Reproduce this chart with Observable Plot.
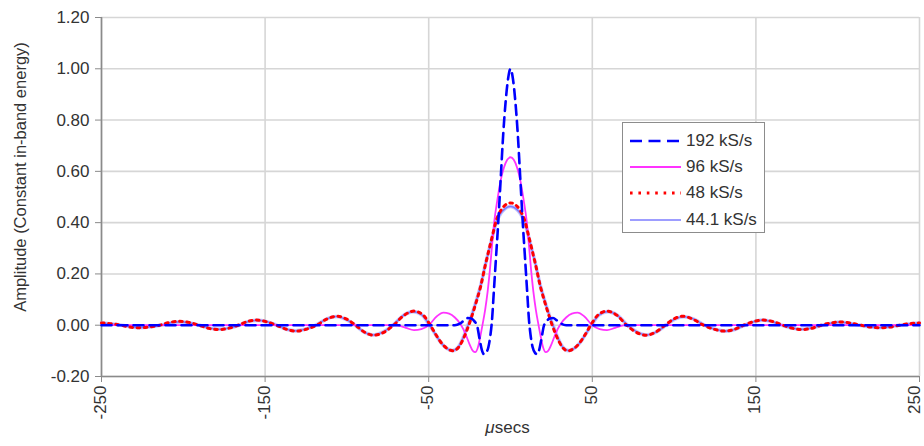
<!DOCTYPE html>
<html>
<head>
<meta charset="utf-8">
<script src="https://cdn.jsdelivr.net/npm/d3@7"></script>
<script src="https://cdn.jsdelivr.net/npm/@observablehq/plot@0.6"></script>
<style>
  html, body { margin: 0; padding: 0; background: #fff; }
  body { font-family: "Liberation Sans", Arial, sans-serif; }
  #wrap { position: relative; width: 924px; height: 446px; overflow: hidden; }
  #legend { position: absolute; left: 622px; top: 122px; width: 143px; height: 111px;
            border: 1px solid #8c8c8c; background: #fff; box-sizing: border-box; }
  .row { position: absolute; left: 6px; height: 20px; display: flex; align-items: center; }
  .row span { font-size: 17px; color: #333; margin-left: 5px; white-space: nowrap; }
</style>
</head>
<body>
<div id="wrap"><div id="legend"></div></div>
<script>
// ---- data ----
const seriesNames = ["192 kS/s", "96 kS/s", "48 kS/s", "44.1 kS/s"];

const t192 = [-250,-34,-31,-28.5,-26,-24,-22,-20.3,-19,-17.5,-16.2,-15,-13.5,-12.3,-11.3,-10.2,-9,-7.5,-6,-4.5,-3,-1.5,0,1.5,3,4.5,6,7.5,9,10.2,11.3,12.3,13.5,15,16.2,17.5,19,20.3,22,24,26,28.5,31,34,250];
const v192 = [0,0,0.006,0.018,0.028,0.026,0.015,-0.005,-0.05,-0.097,-0.113,-0.108,-0.085,-0.04,0.02,0.13,0.25,0.40,0.57,0.74,0.87,0.96,1.0,0.96,0.87,0.74,0.57,0.40,0.25,0.13,0.02,-0.04,-0.085,-0.108,-0.113,-0.097,-0.05,-0.005,0.015,0.026,0.028,0.018,0.006,0,0];

const t96 = [-250,-74,-69,-64,-59,-54.5,-50,-45,-41,-37.5,-34,-31,-29,-27,-25,-23,-21.5,-20,-18.5,-17,-15.5,-14,-12.6,-11.3,-10,-8,-6,-4,-2,0,2,4,6,8,10,11.3,12.6,14,15.5,17,18.5,20,21.5,23,25,27,29,31,34,37.5,41,45,50,54.5,59,64,69,74,250];
const v96 = [0,0,-0.001,-0.01,-0.019,-0.015,0,0.035,0.049,0.045,0.03,0.008,-0.013,-0.042,-0.075,-0.1,-0.105,-0.088,-0.045,0.005,0.06,0.13,0.215,0.31,0.40,0.49,0.565,0.615,0.645,0.655,0.645,0.615,0.565,0.49,0.40,0.31,0.215,0.13,0.06,0.005,-0.045,-0.088,-0.105,-0.1,-0.075,-0.042,-0.013,0.008,0.03,0.045,0.049,0.035,0,-0.015,-0.019,-0.01,-0.001,0,0];

const t48 = [-250,-244,-238,-233,-227.5,-221,-214.5,-208.5,-202.5,-196.5,-190.5,-184.5,-178.5,-172.5,-166.5,-161,-155.5,-149.5,-143,-137,-131,-125,-118.5,-112,-106,-100.5,-94.7,-89,-83.5,-77.5,-71.5,-65,-59,-53.5,-49,-45.5,-42,-38.5,-35,-31.5,-28.5,-25.5,-24,-22.4,-20.5,-18.3,-15.3,-13.3,-11.2,-8.6,-6,-4,-2,0,2,4,6,8.6,11.2,13.3,15.3,18.3,20.5,22.4,24,25.5,28.5,31.5,35,38.5,42,45.5,49,53.5,59,65,71,77,82.5,88.5,94.5,100,105,111,118,124.5,131,137,142.5,148.5,154.5,160.5,166.5,172.5,178,184,190,196,201.5,207.5,214,220,225.5,232,238,244,250];
const v48 = [0.009,0.006,0,-0.007,-0.010,-0.007,0,0.011,0.015,0.011,0,-0.012,-0.017,-0.012,0,0.014,0.020,0.014,0,-0.016,-0.023,-0.016,0,0.025,0.035,0.025,0,-0.028,-0.039,-0.028,0,0.039,0.055,0.040,0,-0.038,-0.071,-0.092,-0.100,-0.084,-0.048,0,0.028,0.060,0.100,0.150,0.237,0.290,0.345,0.410,0.447,0.464,0.474,0.477,0.474,0.464,0.447,0.410,0.345,0.290,0.237,0.150,0.100,0.060,0.028,0,-0.048,-0.084,-0.100,-0.092,-0.071,-0.038,0,0.040,0.055,0.039,0,-0.028,-0.039,-0.028,0,0.025,0.035,0.025,0,-0.016,-0.023,-0.016,0,0.014,0.020,0.014,0,-0.012,-0.017,-0.012,0,0.009,0.013,0.009,0,-0.007,-0.010,-0.007,0,0.006,0.009];

const t441 = [-250,-243.5,-237.5,-232,-226.5,-220.5,-214,-208,-202,-196,-190,-184,-178,-172,-166,-160.5,-155,-149,-143,-137,-131.5,-125.5,-119,-112.5,-106.5,-101,-95,-89.5,-84,-78,-72,-65.5,-59.5,-54,-49.5,-46,-42.5,-39,-35.5,-32,-29,-26,-24,-22.4,-20.5,-18.3,-15.3,-13.3,-11.2,-8.6,-6,-4,-2,0,2,4,6,8.6,11.2,13.3,15.3,18.3,20.5,22.4,24,26,29,32,35.5,39,42.5,46,49.5,54,59.5,65.5,71.5,77.5,83,89,95,100.5,106,112,118.5,125,131.5,137.5,143,149,154,160,166,172,178,184,190.5,196.5,201,207,213.5,219.5,225,231,237.5,243.5,250];
const v441 = [0.008,0.005,0,-0.007,-0.010,-0.007,0,0.009,0.013,0.009,0,-0.011,-0.016,-0.011,0,0.014,0.019,0.014,0,-0.016,-0.022,-0.016,0,0.024,0.034,0.024,0,-0.027,-0.038,-0.027,0,0.038,0.053,0.039,0,-0.034,-0.068,-0.090,-0.099,-0.086,-0.050,0,0.034,0.065,0.104,0.153,0.238,0.290,0.342,0.402,0.436,0.451,0.460,0.463,0.460,0.451,0.436,0.402,0.342,0.290,0.238,0.153,0.104,0.065,0.034,0,-0.050,-0.086,-0.099,-0.090,-0.068,-0.034,0,0.039,0.053,0.038,0,-0.027,-0.038,-0.027,0,0.024,0.033,0.024,0,-0.016,-0.023,-0.016,0,0.014,0.020,0.014,0,-0.011,-0.016,-0.011,0,0.008,0.012,0.008,0,-0.007,-0.010,-0.007,0,0.005,0.008];

const xTicks = [-250, -150, -50, 50, 150, 250];
const yTicks = [-0.2, 0, 0.2, 0.4, 0.6, 0.8, 1.0, 1.2];
const yTitle = "Amplitude (Constant in-band energy)";
const xTitle = "μsecs";

// ---- build tables ----
const toRows = (ts, vs) => ts.map((t, i) => ({t, v: vs[i]}));
const d192 = toRows(t192, v192);
const d96 = toRows(t96, v96);
const d48 = toRows(t48, v48);
const d441 = toRows(t441, v441);

const styles = [
  {stroke: "#0000ff", strokeWidth: 2.6, strokeDasharray: "10,6"},
  {stroke: "#ff33ff", strokeWidth: 1.8},
  {stroke: "#ff0000", strokeWidth: 3, strokeDasharray: "2.6,4.6"},
  {stroke: "#7d7dff", strokeWidth: 1.6}
];

const gridColor = "#d6d6d6";
const axisColor = "#8a8a8a";
const textColor = "#333";
const xLabelOpts = {tickSize: 0, tickPadding: 9, tickRotate: -90, fill: textColor, tickFormat: d => String(d), label: null};

const chart = Plot.plot({
  width: 924,
  height: 446,
  marginLeft: 101,
  marginRight: 5,
  marginTop: 17,
  marginBottom: 70,
  style: {fontFamily: "'Liberation Sans', Arial, sans-serif", fontSize: "17px", color: textColor, background: "#fff"},
  x: {domain: [xTicks[0], xTicks[xTicks.length - 1]]},
  y: {domain: [yTicks[0], yTicks[yTicks.length - 1]]},
  marks: [
    Plot.gridX(xTicks, {stroke: gridColor, strokeOpacity: 1, strokeWidth: 1.6}),
    Plot.gridY(yTicks, {stroke: gridColor, strokeOpacity: 1, strokeWidth: 1.6}),
    Plot.ruleY([yTicks[0]], {stroke: axisColor, strokeWidth: 1.6}),
    Plot.ruleX([xTicks[0]], {stroke: axisColor, strokeWidth: 1.6}),
    // x tick marks
    Plot.axisX(xTicks, {tickSize: 6, stroke: axisColor, tickFormat: () => "", label: null}),
    // x tick labels (rotated); the last one nudged left so it stays inside the picture
    Plot.axisX(xTicks.slice(0, -1), {...xLabelOpts, dx: -1}),
    Plot.axisX(xTicks.slice(-1), {...xLabelOpts, dx: -5}),
    Plot.axisY(yTicks, {tickSize: 6, tickPadding: 6, stroke: axisColor, fill: textColor,
                        tickFormat: d => d.toFixed(2), label: null}),
    // 44.1 kS/s: soft halo + core
    Plot.line(d441, {x: "t", y: "v", curve: "monotone-x", stroke: "#b9b9ff", strokeWidth: 3.6, strokeOpacity: 0.8}),
    Plot.line(d441, {x: "t", y: "v", curve: "monotone-x", ...styles[3]}),
    Plot.line(d96, {x: "t", y: "v", curve: "monotone-x", ...styles[1]}),
    Plot.line(d48, {x: "t", y: "v", curve: "monotone-x", ...styles[2]}),
    Plot.line(d192, {x: "t", y: "v", curve: "monotone-x", ...styles[0]}),
    Plot.text([yTitle], {frameAnchor: "left", textAnchor: "middle", dx: -81, dy: -20, rotate: -90, fill: textColor, fontSize: 16.5}),
    Plot.text([xTitle], {frameAnchor: "bottom", dx: -3, dy: 56, fill: textColor, fontSize: 17})
  ]
});

// italic mu in the x title
d3.select(chart).selectAll("text").filter(function() { return this.textContent === xTitle; })
  .each(function() {
    const t = d3.select(this);
    t.text(null);
    t.append("tspan").attr("font-style", "italic").text(xTitle.slice(0, 1));
    t.append("tspan").text(xTitle.slice(1));
  });

const wrap = document.getElementById("wrap");
wrap.insertBefore(chart, wrap.firstChild);

// ---- legend ----
const legend = document.getElementById("legend");
const rowTops = [8, 34, 60, 87];
seriesNames.forEach((name, i) => {
  const row = document.createElement("div");
  row.className = "row";
  row.style.top = rowTops[i] + "px";
  const s = styles[i];
  const svg = d3.create("svg").attr("width", 52).attr("height", 20);
  svg.append("line").attr("x1", 1).attr("x2", 52).attr("y1", 10).attr("y2", 10)
    .attr("stroke", s.stroke).attr("stroke-width", i === 3 ? 1.4 : s.strokeWidth)
    .attr("stroke-dasharray", i === 0 ? "12,6.5" : i === 2 ? "2.6,5.8" : null);
  row.appendChild(svg.node());
  const span = document.createElement("span");
  span.textContent = name;
  row.appendChild(span);
  legend.appendChild(row);
});
</script>
</body>
</html>
